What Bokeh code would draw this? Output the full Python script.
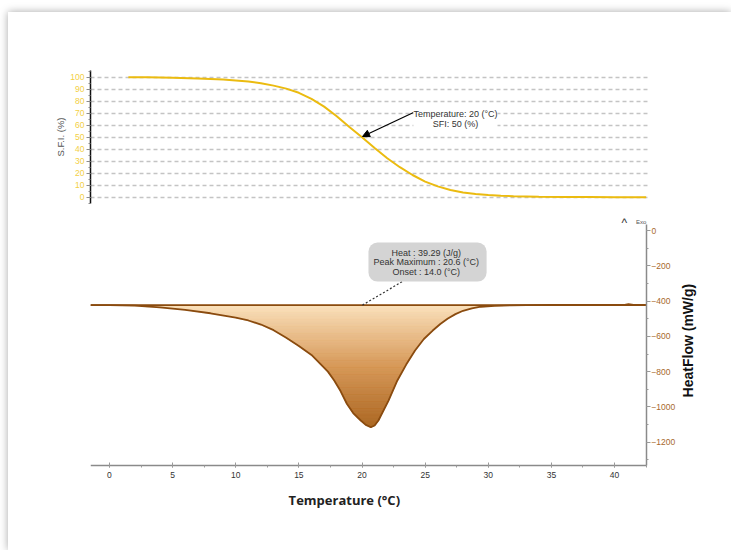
import numpy as np
from bokeh.plotting import figure
from bokeh.models import (Range1d, SingleIntervalTicker, Label, Arrow, NormalHead)
from bokeh.layouts import column
from bokeh.embed import file_html
from bokeh.resources import INLINE

# ---------------- data ----------------
sfi_temp = [1.5, 3, 5, 7, 9, 11, 12, 13, 14, 15, 16, 17, 18, 19, 20, 21, 22, 23, 24,
            25, 26, 27, 28, 29, 30, 31, 32, 34, 36, 38, 40, 42.5]
sfi_value = [100, 100, 99.6, 99, 98, 96.5, 95, 93, 90.5, 87, 82, 75.5, 67.5, 58.5, 50,
             41, 32.5, 25, 18.5, 13, 9, 6, 4, 2.6, 1.8, 1.2, 0.8, 0.4, 0.2, 0.1, 0, 0]

dsc_temp = [-1.5, 0, 2, 4, 6, 8, 10, 11, 12, 13, 14, 15, 16, 16.7, 17.3, 17.8, 18.3,
            18.8, 19.3, 19.9, 20.3, 20.7, 21.0, 21.3, 22.1, 22.8, 23.5, 24.2, 24.9,
            25.6, 26.2, 26.8, 27.4, 28.0, 28.7, 29.4, 30.5, 31.8, 33, 35, 37, 39,
            40.8, 41.1, 41.5, 42.5]
dsc_heatflow = [-423, -423, -426, -436, -450, -469, -494, -510, -533, -565, -608, -655,
                -705, -756, -800, -850, -910, -982, -1035, -1077, -1102, -1115, -1105,
                -1077, -964, -850, -760, -680, -615, -567, -530, -499, -474, -455, -441,
                -432, -427, -424, -423, -422, -421.5, -421, -421, -417, -421, -421]
baseline_heatflow = -423

sfi_ticks_interval = 10
hf_ticks_interval = 200
temp_ticks_interval = 5

sfi_annot_temp, sfi_annot_value = 20, 50
heat_text = "Heat :  39.29 (J/g)\nPeak Maximum :  20.6 (°C)\nOnset :  14.0 (°C)"
sfi_text = "Temperature: 20 (°C)\nSFI: 50 (%)"

FONT = "Liberation Sans"
T_MIN, T_MAX = -1.5, 42.52
T_VIEW_MAX = 49.26
HF_MIN, HF_MAX_AXIS = -1332, 34

# ---------------- top figure: SFI ----------------
top = figure(width=723, height=196, output_backend="svg", toolbar_location=None,
             x_range=Range1d(T_MIN, T_VIEW_MAX), y_range=Range1d(-5.25, 105.6),
             min_border_left=82, min_border_right=0, min_border_top=58,
             min_border_bottom=5, outline_line_color=None)
top.xaxis.visible = False
top.xgrid.visible = False
la = top.yaxis[0]
la.ticker = SingleIntervalTicker(interval=sfi_ticks_interval, num_minor_ticks=2)
la.axis_label = "S.F.I. (%)"
la.axis_line_color = "#111111"
la.axis_line_width = 1.5
la.major_tick_line_color = "#8a8a8a"
la.minor_tick_line_color = "#8a8a8a"
la.major_tick_in = 0
la.major_tick_out = 4
la.minor_tick_in = 0
la.minor_tick_out = 2
la.major_label_text_font = FONT
la.major_label_text_font_size = "8.5px"
la.major_label_text_color = "#f3cf45"
la.major_label_standoff = 2
la.axis_label_text_font = FONT
la.axis_label_text_font_size = "9.5px"
la.axis_label_text_font_style = "normal"
la.axis_label_text_color = "#555555"
la.axis_label_standoff = 1
g = top.ygrid[0]
g.grid_line_color = "#c4c4c4"
g.grid_line_dash = "4 3"
g.grid_line_width = 1.5
g.bounds = (0, 100)
g.cross_bounds = (T_MIN, 42.65)

top.line(sfi_temp, sfi_value, line_color="#ebbb10", line_width=2)
top.add_layout(Arrow(x_start=24.08, y_start=70.6, x_end=sfi_annot_temp + 0.04,
                     y_end=sfi_annot_value + 0.6,
                     line_color="black", line_width=1.2,
                     end=NormalHead(size=7, fill_color="black", line_color="black")))
top.add_layout(Label(x=27.4, y=65.2, text=sfi_text,
                     text_align="center", text_baseline="middle",
                     text_font=FONT, text_font_size="9px", text_color="#333333",
                     background_fill_color="white", text_line_height=1.0))

# ---------------- bottom figure: DSC ----------------
bot = figure(width=723, height=342, output_backend="svg", toolbar_location=None,
             x_range=Range1d(T_MIN, T_VIEW_MAX), y_range=Range1d(-1814, 96.6),
             y_axis_location="right",
             min_border_left=82, min_border_right=0, min_border_top=5,
             min_border_bottom=0, outline_line_color=None)
bot.grid.visible = False

xa = bot.xaxis[0]
xa.fixed_location = HF_MIN
xa.bounds = (T_MIN, T_MAX)
xa.ticker = SingleIntervalTicker(interval=temp_ticks_interval, num_minor_ticks=2)
xa.axis_line_color = "#8a8a8a"
xa.axis_line_width = 1.5
xa.major_tick_line_color = "#9a9a9a"
xa.minor_tick_line_color = "#9a9a9a"
xa.major_tick_in = 3
xa.major_tick_out = 2
xa.minor_tick_in = 0
xa.minor_tick_out = 2
xa.major_label_text_font = FONT
xa.major_label_text_font_size = "8.5px"
xa.major_label_text_color = "#333333"
xa.major_label_standoff = 5

ya = bot.yaxis[0]
ya.fixed_location = T_MAX
ya.bounds = (HF_MIN, HF_MAX_AXIS)
ya.ticker = SingleIntervalTicker(interval=hf_ticks_interval, num_minor_ticks=2)
ya.axis_line_color = "#8a8a8a"
ya.axis_line_width = 1.5
ya.major_tick_line_color = "#9a9a9a"
ya.minor_tick_line_color = "#9a9a9a"
ya.major_tick_in = 0
ya.major_tick_out = 4
ya.minor_tick_in = 0
ya.minor_tick_out = 2
ya.major_label_text_font = FONT
ya.major_label_text_font_size = "8.5px"
ya.major_label_text_color = "#a8692c"
ya.major_label_standoff = 1

# fill with a vertical gradient made of thin bands
t_arr = np.array(dsc_temp, dtype=float)
h_arr = np.array(dsc_heatflow, dtype=float)
imin = int(np.argmin(h_arr))
hmin = h_arr[imin]
levels = np.linspace(hmin, baseline_heatflow, 141)
lo, hi = levels[:-1], levels[1:]
mid = (lo + hi) / 2
left_h = np.maximum.accumulate(h_arr[:imin + 1][::-1])
left_t = t_arr[:imin + 1][::-1]
right_h = np.maximum.accumulate(h_arr[imin:])
right_t = t_arr[imin:]
lx = np.interp(mid, left_h, left_t)
rx = np.interp(mid, right_h, right_t)
frac = (baseline_heatflow - mid) / (baseline_heatflow - hmin)
stops_f = [0.0, 0.5, 1.0]
stops_c = np.array([[251, 224, 186], [214, 150, 84], [170, 100, 30]], dtype=float)
cols = []
for f in frac:
    r = np.interp(f, stops_f, stops_c[:, 0])
    gg = np.interp(f, stops_f, stops_c[:, 1])
    b = np.interp(f, stops_f, stops_c[:, 2])
    cols.append("#%02x%02x%02x" % (int(r), int(gg), int(b)))
bot.quad(left=lx, right=rx, bottom=lo, top=hi, fill_color=cols, line_color=cols,
         line_width=0.6)

bot.line([dsc_temp[0], dsc_temp[-1]], [baseline_heatflow, baseline_heatflow],
         line_color="#8a4b0f", line_width=1.6)
bot.line(dsc_temp, dsc_heatflow, line_color="#8a4b0f", line_width=1.8)

bot.line([20.03, 23.2], [baseline_heatflow, -289], line_color="#333333",
         line_dash="2 2", line_width=1.2)
bot.add_layout(Label(x=25.19, y=-178.6, text=heat_text,
                     text_align="center", text_baseline="middle",
                     text_font=FONT, text_font_size="9px", text_color="#333333",
                     background_fill_color="#d4d4d4", border_radius=9, padding=5,
                     text_line_height=0.95))

bot.add_layout(Label(x=40.78, y=45, text="^", text_align="center",
                     text_baseline="middle", text_font=FONT, text_font_size="12px",
                     text_color="#333333"))
bot.add_layout(Label(x=42.1, y=50, text="Exo", text_align="center",
                     text_baseline="middle", text_font=FONT, text_font_size="6px",
                     text_color="#555555"))

bot.add_layout(Label(x=18.6, y=-1525, text="Temperature (°C)", text_align="center",
                     text_baseline="middle", text_font="Open Sans",
                     text_font_size="13px", text_font_style="bold",
                     text_color="#222222"))
bot.add_layout(Label(x=45.85, y=-624, text="HeatFlow (mW/g)", angle=np.pi / 2,
                     text_align="center", text_baseline="middle", text_font=FONT,
                     text_font_size="14px", text_font_style="bold",
                     text_color="#111111"))

layout = column(top, bot, spacing=0,
                styles={"box-shadow": "0px 0px 8px rgba(0,0,0,0.35)",
                        "margin-top": "12px", "margin-left": "8px"})

open("out.html", "w").write(file_html(layout, INLINE))
